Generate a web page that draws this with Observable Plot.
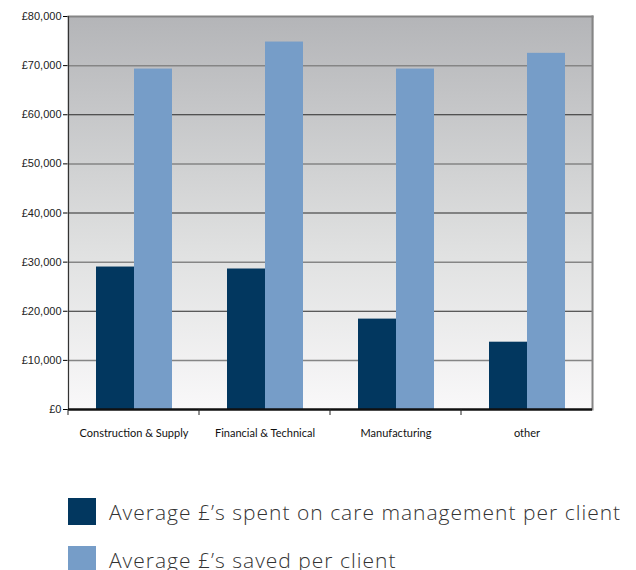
<!DOCTYPE html>
<html><head><meta charset="utf-8">
<script src="https://cdn.jsdelivr.net/npm/d3@7"></script>
<script src="https://cdn.jsdelivr.net/npm/@observablehq/plot@0.6"></script>
<style>
body{margin:0;background:#fff;}
#chart svg{display:block;overflow:visible}
#chart [aria-label="y-axis tick label"] text{font-family:"Liberation Sans",Arial,sans-serif;font-size:11px;fill:#222}
#chart [aria-label="fx-axis tick label"] text{font-family:Lato,sans-serif;font-size:11px;fill:#111}
#legend{margin-left:68px;margin-top:48px}
.row{display:flex;align-items:center;height:27px;margin-bottom:21px}
.sw{width:28px;height:27px;margin-right:13px;flex:none}
.lab{font-family:"Open Sans",sans-serif;font-weight:300;font-size:21px;letter-spacing:1px;color:#333;white-space:nowrap}
</style></head><body>
<div id="chart"></div>
<div id="legend"></div>
<script>
const categories = ["Construction & Supply", "Financial & Technical", "Manufacturing", "other"];
const series = ["Average £’s spent on care management per client", "Average £’s saved per client"];
const spent = [29000, 28600, 18400, 13700];
const saved = [69300, 74800, 69300, 72500];
const colors = ["#02375f", "#769dc8"];
const yTicks = [0, 10000, 20000, 30000, 40000, 50000, 60000, 70000, 80000];
const darkGrid = [20000, 40000, 60000];
const grayGrid = [10000, 30000, 50000, 70000];

const data = categories.flatMap((c, i) => [
  {category: c, series: series[0], value: spent[i]},
  {category: c, series: series[1], value: saved[i]}
]);

const gradientDefs = () => {
  const defs = d3.create("svg:defs");
  const g = defs.append("linearGradient").attr("id", "bg").attr("x1", 0).attr("x2", 0).attr("y1", 0).attr("y2", 1);
  g.append("stop").attr("offset", "0%").attr("stop-color", "#b4b5b8");
  g.append("stop").attr("offset", "60%").attr("stop-color", "#e0e1e1");
  g.append("stop").attr("offset", "100%").attr("stop-color", "#f9f8f9");
  return defs.node();
};

const boundaryTick = (index, scales, values, dims) => {
  const y0 = scales.y(0);
  const line = d3.create("svg:line")
    .attr("x1", dims.marginLeft).attr("x2", dims.marginLeft)
    .attr("y1", y0).attr("y2", y0 + 6)
    .attr("stroke", "#222").attr("stroke-width", 1);
  return line.node();
};

const chart = Plot.plot({
  width: 636,
  height: 450,
  marginLeft: 67,
  marginRight: 44,
  marginTop: 16,
  marginBottom: 41,
  style: {background: "transparent"},
  fx: {domain: categories, padding: 0, label: null, tickSize: 0, tickPadding: 20, axis: "bottom"},
  x: {domain: series, axis: null, paddingInner: 0, paddingOuter: 0.72},
  y: {domain: [0, 80000], ticks: yTicks, tickFormat: d => "£" + d3.format(",")(d), tickSize: 5, tickPadding: 2, label: null},
  color: {domain: series, range: colors},
  marks: [
    gradientDefs,
    Plot.frame({fill: "url(#bg)", stroke: null, insetLeft: -1, insetRight: -1}),
    Plot.ruleY(grayGrid, {stroke: "#858585", strokeWidth: 1.5}),
    Plot.ruleY(darkGrid, {stroke: "#2a2a2a", strokeWidth: 1.2}),
    Plot.barY(data, {fx: "category", x: "series", y: "value", fill: "series", inset: 0}),
    Plot.frame({facet: "super", anchor: "top", stroke: "#858585", strokeWidth: 2}),
    Plot.frame({facet: "super", anchor: "right", stroke: "#858585", strokeWidth: 2}),
    Plot.frame({facet: "super", anchor: "left", stroke: "#333", strokeWidth: 1.2}),
    Plot.ruleY([0], {stroke: "#111", strokeWidth: 2.5}),
    boundaryTick
  ]
});
document.getElementById("chart").append(chart);

const legend = d3.select("#legend");
series.forEach((s, i) => {
  const row = legend.append("div").attr("class", "row");
  row.append("div").attr("class", "sw").style("background", colors[i]);
  row.append("div").attr("class", "lab").text(s);
});
</script>
</body></html>
